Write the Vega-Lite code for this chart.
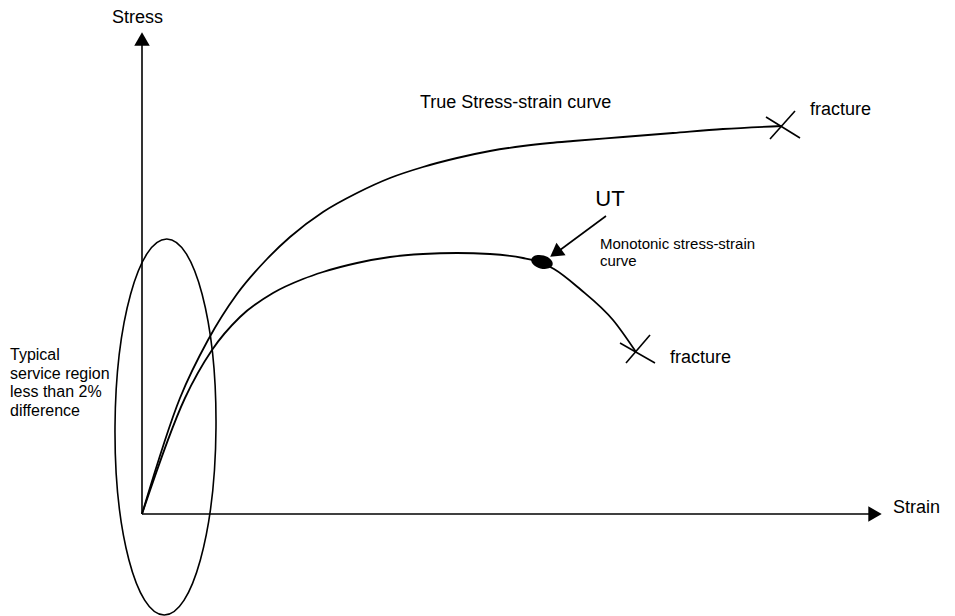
{
  "$schema": "https://vega.github.io/schema/vega-lite/v6.json",
  "width": 955,
  "height": 616,
  "padding": 0,
  "autosize": {"type": "none"},
  "background": "white",
  "config": {"view": {"stroke": null}, "text": {"font": "Liberation Sans", "color": "black"}},
  "datasets": {
    "curves": [
      {"series": "True stress-strain curve", "strain": 0, "stress": 0},
      {"series": "True stress-strain curve", "strain": 38, "stress": 116},
      {"series": "True stress-strain curve", "strain": 66, "stress": 174},
      {"series": "True stress-strain curve", "strain": 95, "stress": 220},
      {"series": "True stress-strain curve", "strain": 125, "stress": 255},
      {"series": "True stress-strain curve", "strain": 148, "stress": 277},
      {"series": "True stress-strain curve", "strain": 181, "stress": 302},
      {"series": "True stress-strain curve", "strain": 215, "stress": 321},
      {"series": "True stress-strain curve", "strain": 248, "stress": 336},
      {"series": "True stress-strain curve", "strain": 281, "stress": 347},
      {"series": "True stress-strain curve", "strain": 315, "stress": 356},
      {"series": "True stress-strain curve", "strain": 348, "stress": 363},
      {"series": "True stress-strain curve", "strain": 381, "stress": 368},
      {"series": "True stress-strain curve", "strain": 408, "stress": 371},
      {"series": "True stress-strain curve", "strain": 431, "stress": 373},
      {"series": "True stress-strain curve", "strain": 481, "stress": 377},
      {"series": "True stress-strain curve", "strain": 531, "stress": 381},
      {"series": "True stress-strain curve", "strain": 581, "stress": 385},
      {"series": "True stress-strain curve", "strain": 640, "stress": 388},
      {"series": "Monotonic stress-strain curve", "strain": 0, "stress": 0},
      {"series": "Monotonic stress-strain curve", "strain": 43, "stress": 116},
      {"series": "Monotonic stress-strain curve", "strain": 70, "stress": 164},
      {"series": "Monotonic stress-strain curve", "strain": 98, "stress": 197},
      {"series": "Monotonic stress-strain curve", "strain": 131, "stress": 221},
      {"series": "Monotonic stress-strain curve", "strain": 161, "stress": 235},
      {"series": "Monotonic stress-strain curve", "strain": 181, "stress": 242},
      {"series": "Monotonic stress-strain curve", "strain": 215, "stress": 251},
      {"series": "Monotonic stress-strain curve", "strain": 248, "stress": 257},
      {"series": "Monotonic stress-strain curve", "strain": 281, "stress": 260},
      {"series": "Monotonic stress-strain curve", "strain": 315, "stress": 261},
      {"series": "Monotonic stress-strain curve", "strain": 348, "stress": 260},
      {"series": "Monotonic stress-strain curve", "strain": 381, "stress": 256},
      {"series": "Monotonic stress-strain curve", "strain": 400, "stress": 251},
      {"series": "Monotonic stress-strain curve", "strain": 412, "stress": 245},
      {"series": "Monotonic stress-strain curve", "strain": 438, "stress": 225},
      {"series": "Monotonic stress-strain curve", "strain": 471, "stress": 194},
      {"series": "Monotonic stress-strain curve", "strain": 494, "stress": 162}
    ],
    "segments": [
      {"part": "stress axis", "strain": 0, "stress": 0, "strain2": 0, "stress2": 469},
      {"part": "strain axis", "strain": 0, "stress": 0, "strain2": 728, "stress2": 0},
      {"part": "UT pointer", "strain": 464, "stress": 298, "strain2": 414, "stress2": 261},
      {"part": "fracture true a", "strain": 624, "stress": 397, "strain2": 658, "stress2": 376},
      {"part": "fracture true b", "strain": 628, "stress": 375, "strain2": 653, "stress2": 403},
      {"part": "fracture mono a", "strain": 478, "stress": 171, "strain2": 513, "stress2": 151},
      {"part": "fracture mono b", "strain": 484, "stress": 151, "strain2": 508, "stress2": 179}
    ],
    "arrowUp": [{"strain": 0, "stress": 475}],
    "arrowRight": [{"strain": 733, "stress": 0}],
    "arrowUT": [{"strain": 413.6, "stress": 261.1}],
    "utPoint": [{"strain": 400, "stress": 252}],
    "region": [{"strain": 23.5, "stress": 87}],
    "labels18": [
      {"label": "Strain", "strain": 751, "stress": 1},
      {"label": "True Stress-strain curve", "strain": 278, "stress": 406},
      {"label": "fracture", "strain": 668, "stress": 399},
      {"label": "fracture", "strain": 528, "stress": 151}
    ],
    "labelStress": [{"label": "Stress", "strain": -4.5, "stress": 491}],
    "labelUT": [{"label": "UT", "strain": 468, "stress": 308}],
    "labels15": [
      {"label": "Monotonic stress-strain", "strain": 458, "stress": 265},
      {"label": "curve", "strain": 458, "stress": 248}
    ],
    "labels16": [
      {"label": "Typical", "strain": -132, "stress": 154},
      {"label": "service region", "strain": -132, "stress": 135.5},
      {"label": "less than 2%", "strain": -132, "stress": 117},
      {"label": "difference", "strain": -132, "stress": 98.5}
    ]
  },
  "layer": [
    {
      "data": {"name": "curves"},
      "mark": {"type": "line", "color": "black", "strokeWidth": 1.8, "interpolate": "monotone"},
      "encoding": {
        "x": {"field": "strain", "type": "quantitative", "axis": null, "scale": {"domain": [-142, 813], "nice": false, "zero": false}},
        "y": {"field": "stress", "type": "quantitative", "axis": null, "scale": {"domain": [-102, 514], "nice": false, "zero": false}},
        "detail": {"field": "series"}
      }
    },
    {
      "data": {"name": "segments"},
      "mark": {"type": "rule", "color": "black", "strokeWidth": 1.6},
      "encoding": {
        "x": {"field": "strain", "type": "quantitative", "axis": null, "scale": {"domain": [-142, 813], "nice": false, "zero": false}},
        "y": {"field": "stress", "type": "quantitative", "axis": null, "scale": {"domain": [-102, 514], "nice": false, "zero": false}},
        "x2": {"field": "strain2"},
        "y2": {"field": "stress2"}
      }
    },
    {
      "data": {"name": "region"},
      "mark": {"type": "point", "shape": "M 0 -1 C 0.1484 -1 0.2686 -0.5523 0.2686 0 C 0.2686 0.5523 0.1484 1 0 1 C -0.1484 1 -0.2686 0.5523 -0.2686 0 C -0.2686 -0.5523 -0.1484 -1 0 -1 Z", "size": 141376, "filled": false, "stroke": "black", "strokeWidth": 1.6, "opacity": 1, "angle": 0.4},
      "encoding": {
        "x": {"field": "strain", "type": "quantitative", "axis": null, "scale": {"domain": [-142, 813], "nice": false, "zero": false}},
        "y": {"field": "stress", "type": "quantitative", "axis": null, "scale": {"domain": [-102, 514], "nice": false, "zero": false}}
      }
    },
    {
      "data": {"name": "utPoint"},
      "mark": {"type": "point", "shape": "M 0 -0.6 C 0.5523 -0.6 1 -0.3314 1 0 C 1 0.3314 0.5523 0.6 0 0.6 C -0.5523 0.6 -1 0.3314 -1 0 C -1 -0.3314 -0.5523 -0.6 0 -0.6 Z", "size": 484, "filled": true, "color": "black", "opacity": 1, "angle": 15},
      "encoding": {
        "x": {"field": "strain", "type": "quantitative", "axis": null, "scale": {"domain": [-142, 813], "nice": false, "zero": false}},
        "y": {"field": "stress", "type": "quantitative", "axis": null, "scale": {"domain": [-102, 514], "nice": false, "zero": false}}
      }
    },
    {
      "data": {"name": "arrowUp"},
      "mark": {"type": "point", "shape": "triangle-up", "size": 240, "filled": true, "color": "black", "opacity": 1},
      "encoding": {
        "x": {"field": "strain", "type": "quantitative", "axis": null, "scale": {"domain": [-142, 813], "nice": false, "zero": false}},
        "y": {"field": "stress", "type": "quantitative", "axis": null, "scale": {"domain": [-102, 514], "nice": false, "zero": false}}
      }
    },
    {
      "data": {"name": "arrowRight"},
      "mark": {"type": "point", "shape": "triangle-right", "size": 240, "filled": true, "color": "black", "opacity": 1},
      "encoding": {
        "x": {"field": "strain", "type": "quantitative", "axis": null, "scale": {"domain": [-142, 813], "nice": false, "zero": false}},
        "y": {"field": "stress", "type": "quantitative", "axis": null, "scale": {"domain": [-102, 514], "nice": false, "zero": false}}
      }
    },
    {
      "data": {"name": "arrowUT"},
      "mark": {"type": "point", "shape": "triangle-up", "size": 240, "filled": true, "color": "black", "opacity": 1, "angle": 233.8},
      "encoding": {
        "x": {"field": "strain", "type": "quantitative", "axis": null, "scale": {"domain": [-142, 813], "nice": false, "zero": false}},
        "y": {"field": "stress", "type": "quantitative", "axis": null, "scale": {"domain": [-102, 514], "nice": false, "zero": false}}
      }
    },
    {
      "data": {"name": "labels18"},
      "mark": {"type": "text", "fontSize": 18, "align": "left", "baseline": "alphabetic"},
      "encoding": {
        "x": {"field": "strain", "type": "quantitative", "axis": null, "scale": {"domain": [-142, 813], "nice": false, "zero": false}},
        "y": {"field": "stress", "type": "quantitative", "axis": null, "scale": {"domain": [-102, 514], "nice": false, "zero": false}},
        "text": {"field": "label"}
      }
    },
    {
      "data": {"name": "labelStress"},
      "mark": {"type": "text", "fontSize": 18, "align": "center", "baseline": "alphabetic"},
      "encoding": {
        "x": {"field": "strain", "type": "quantitative", "axis": null, "scale": {"domain": [-142, 813], "nice": false, "zero": false}},
        "y": {"field": "stress", "type": "quantitative", "axis": null, "scale": {"domain": [-102, 514], "nice": false, "zero": false}},
        "text": {"field": "label"}
      }
    },
    {
      "data": {"name": "labelUT"},
      "mark": {"type": "text", "fontSize": 22, "align": "center", "baseline": "alphabetic"},
      "encoding": {
        "x": {"field": "strain", "type": "quantitative", "axis": null, "scale": {"domain": [-142, 813], "nice": false, "zero": false}},
        "y": {"field": "stress", "type": "quantitative", "axis": null, "scale": {"domain": [-102, 514], "nice": false, "zero": false}},
        "text": {"field": "label"}
      }
    },
    {
      "data": {"name": "labels15"},
      "mark": {"type": "text", "fontSize": 15, "align": "left", "baseline": "alphabetic"},
      "encoding": {
        "x": {"field": "strain", "type": "quantitative", "axis": null, "scale": {"domain": [-142, 813], "nice": false, "zero": false}},
        "y": {"field": "stress", "type": "quantitative", "axis": null, "scale": {"domain": [-102, 514], "nice": false, "zero": false}},
        "text": {"field": "label"}
      }
    },
    {
      "data": {"name": "labels16"},
      "mark": {"type": "text", "fontSize": 16, "align": "left", "baseline": "alphabetic"},
      "encoding": {
        "x": {"field": "strain", "type": "quantitative", "axis": null, "scale": {"domain": [-142, 813], "nice": false, "zero": false}},
        "y": {"field": "stress", "type": "quantitative", "axis": null, "scale": {"domain": [-102, 514], "nice": false, "zero": false}},
        "text": {"field": "label"}
      }
    }
  ]
}
